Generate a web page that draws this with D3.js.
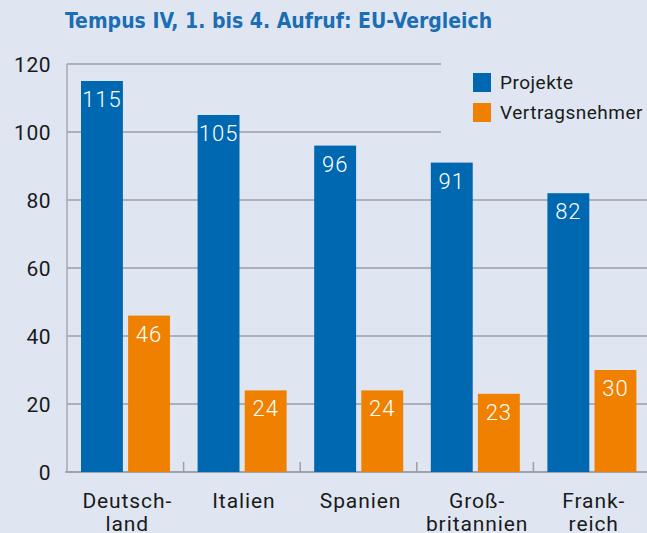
<!DOCTYPE html>
<html>
<head>
<meta charset="utf-8">
<script src="https://cdn.jsdelivr.net/npm/d3@7"></script>
<style>
  body { margin: 0; background: #dfe6f2; }
  svg { display: block; }
  .tick-label, .cat-label, .legend-label { font-family: Roboto, "DejaVu Sans", sans-serif; fill: #1a1a1a; }
</style>
</head>
<body>
<script>
// data
const categories = [["Deutsch-", "land"], ["Italien"], ["Spanien"], ["Groß-", "britannien"], ["Frank-", "reich"]];
const seriesNames = ["Projekte", "Vertragsnehmer"];
const projekte = [115, 105, 96, 91, 82];
const vertragsnehmer = [46, 24, 24, 23, 30];
const yTicks = [0, 20, 40, 60, 80, 100, 120];

const colors = { Projekte: "#0067b1", Vertragsnehmer: "#f08100" };

const W = 647, H = 533;
const margin = { top: 64, right: -3, bottom: 61, left: 67 };
const innerW = W - margin.left - margin.right;
const innerH = H - margin.top - margin.bottom;

const svg = d3.select("body").append("svg")
  .attr("width", W)
  .attr("height", H);

svg.append("rect").attr("width", W).attr("height", H).attr("fill", "#dfe6f2");

// title
svg.append("text")
  .attr("x", 65)
  .attr("y", 28)
  .attr("fill", "#1b6db4")
  .style("font-family", "'Liberation Sans Narrow', 'DejaVu Sans Condensed', sans-serif")
  .style("font-weight", "bold")
  .style("font-size", "21px")
  .text("Tempus IV, 1. bis 4. Aufruf: EU-Vergleich");

const g = svg.append("g").attr("transform", `translate(${margin.left},${margin.top})`);

const x0 = d3.scaleBand()
  .domain(d3.range(categories.length))
  .range([0, innerW])
  .padding(0);

const x1 = d3.scaleBand()
  .domain(seriesNames)
  .range([14, 103])
  .paddingInner(0.11);

const y = d3.scaleLinear().domain([0, 120]).range([innerH, 0]);

// grid lines
g.append("g")
  .selectAll("line")
  .data(yTicks)
  .join("line")
  .attr("x1", 0)
  .attr("x2", innerW)
  .attr("y1", d => y(d))
  .attr("y2", d => y(d))
  .attr("stroke", "#9a9ea6")
  .attr("stroke-width", 1.3);

// y axis labels
g.append("g")
  .selectAll("text")
  .data(yTicks)
  .join("text")
  .attr("class", "tick-label")
  .attr("x", -16)
  .attr("y", d => y(d))
  .attr("dy", "0.36em")
  .attr("text-anchor", "end")
  .style("font-size", "21px")
  .style("letter-spacing", "0.5px")
  .text(d => d);

// axis lines
g.append("line")
  .attr("x1", 0).attr("x2", 0)
  .attr("y1", 0).attr("y2", innerH)
  .attr("stroke", "#a4a8b0").attr("stroke-width", 1.5);

g.append("line")
  .attr("x1", -2).attr("x2", innerW)
  .attr("y1", innerH).attr("y2", innerH)
  .attr("stroke", "#9a9ea6").attr("stroke-width", 1.5);

// small ticks between categories
g.append("g")
  .selectAll("line")
  .data(d3.range(1, categories.length))
  .join("line")
  .attr("x1", d => x0(d))
  .attr("x2", d => x0(d))
  .attr("y1", innerH)
  .attr("y2", innerH - 10)
  .attr("stroke", "#9a9ea6").attr("stroke-width", 1.5);

// bars
const rows = categories.map((c, i) => ({
  i: i,
  values: [
    { key: "Projekte", value: projekte[i] },
    { key: "Vertragsnehmer", value: vertragsnehmer[i] }
  ]
}));

const groups = g.selectAll(".grp")
  .data(rows)
  .join("g")
  .attr("class", "grp")
  .attr("transform", d => `translate(${x0(d.i)},0)`);

groups.selectAll("rect")
  .data(d => d.values)
  .join("rect")
  .attr("x", d => x1(d.key))
  .attr("width", x1.bandwidth())
  .attr("y", d => y(d.value))
  .attr("height", d => innerH - y(d.value))
  .attr("fill", d => colors[d.key]);

groups.selectAll(".val")
  .data(d => d.values)
  .join("text")
  .attr("class", "val")
  .attr("x", d => x1(d.key) + x1.bandwidth() / 2)
  .attr("y", d => y(d.value) + 26)
  .attr("text-anchor", "middle")
  .attr("fill", "#fff")
  .style("font-family", "Roboto, 'DejaVu Sans', sans-serif")
  .style("font-weight", "300")
  .style("letter-spacing", "1px")
  .style("font-size", "22px")
  .text(d => d.value);

// category labels
groups.append("text")
  .attr("class", "cat-label")
  .attr("text-anchor", "middle")
  .style("font-size", "21px")
  .style("letter-spacing", "0.9px")
  .selectAll("tspan")
  .data(d => categories[d.i])
  .join("tspan")
  .attr("x", x0.bandwidth() / 2 + 2)
  .attr("y", (d, k) => innerH + 36 + k * 23)
  .text(d => d);

// legend (its background hides the grid lines behind it)
const legend = svg.append("g");
legend.append("rect")
  .attr("x", 441).attr("y", 56)
  .attr("width", W - 441).attr("height", 82)
  .attr("fill", "#dfe6f2");

seriesNames.forEach((s, k) => {
  legend.append("rect")
    .attr("x", 473)
    .attr("y", 73 + k * 30)
    .attr("width", 18)
    .attr("height", 19)
    .attr("fill", colors[s]);
  legend.append("text")
    .attr("class", "legend-label")
    .attr("x", 500)
    .attr("y", 89 + k * 30)
    .style("font-size", "19px")
    .style("letter-spacing", "0.5px")
    .text(s);
});
</script>
</body>
</html>
